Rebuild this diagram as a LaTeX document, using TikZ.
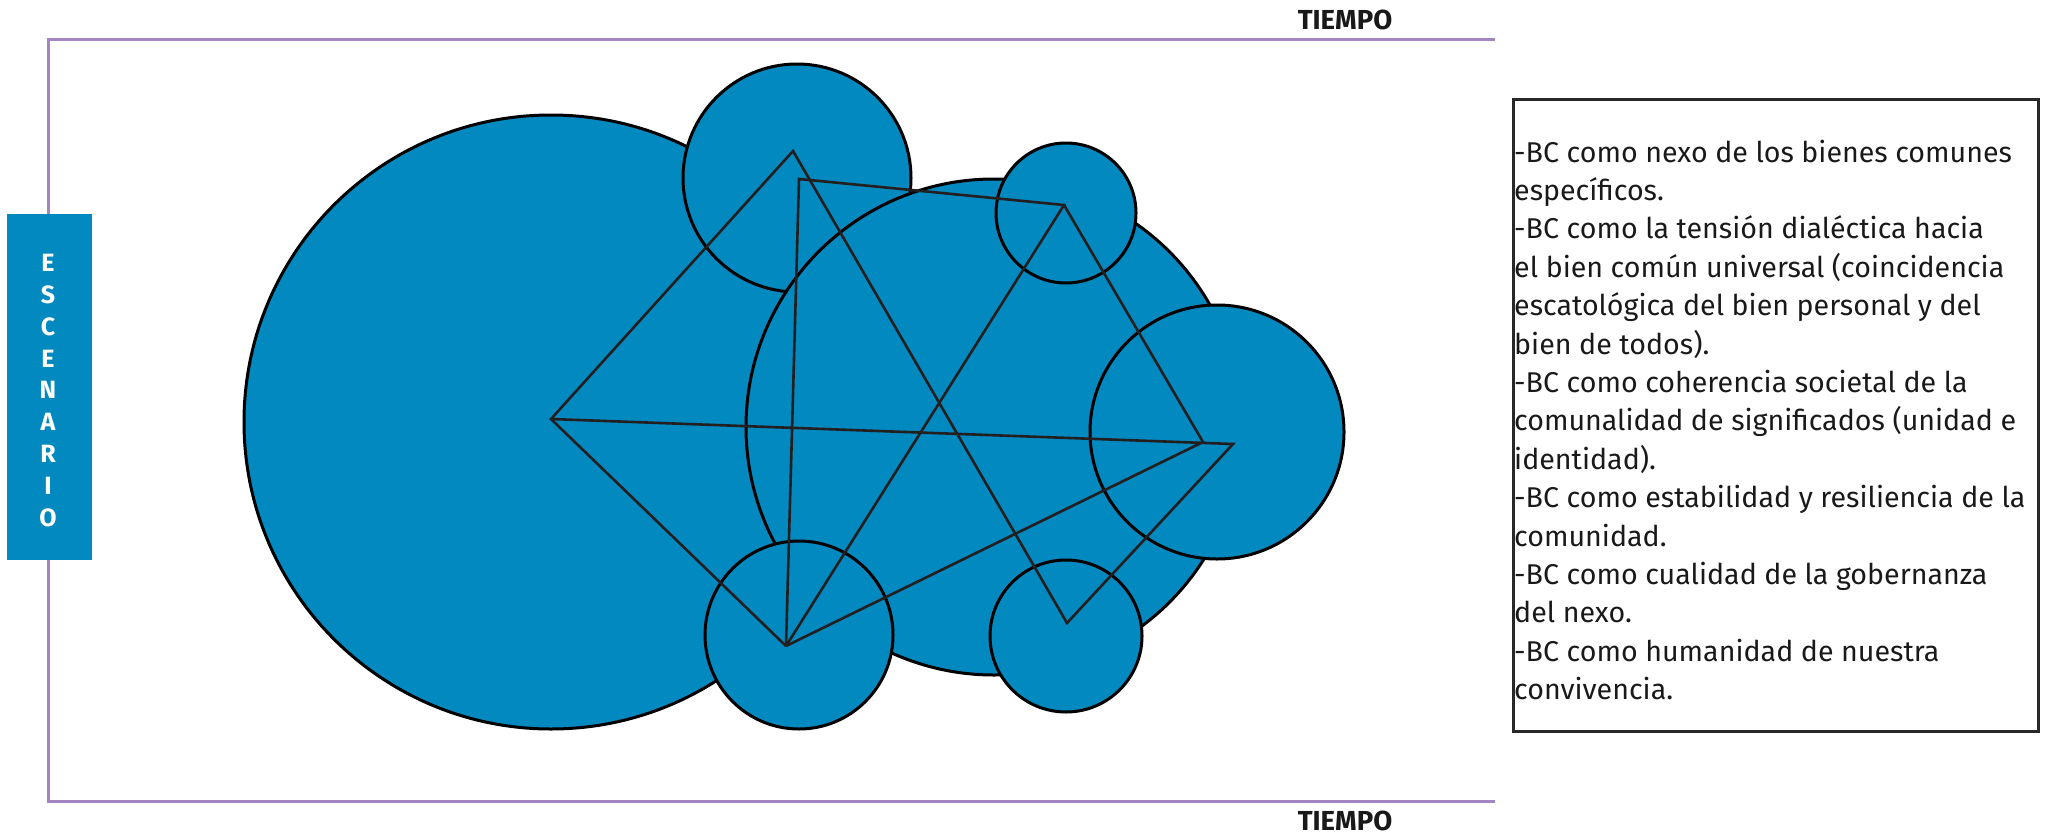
\documentclass[tikz,border=0pt]{standalone}
\usepackage{fontspec}
\setmainfont{Fira Sans}
\definecolor{bcblue}{RGB}{2,137,191}
\definecolor{framepurple}{RGB}{163,133,194}
\definecolor{starline}{RGB}{35,31,32}
\definecolor{boxline}{RGB}{40,40,40}
\tikzset{
  bubble/.style={circle, draw=black, line width=3pt, fill=bcblue, inner sep=0pt},
  starseg/.style={draw=starline, line width=2.6pt, line join=miter},
  timeline/.style={draw=framepurple, line width=3pt},
  timelabel/.style={font=\bfseries\fontsize{27.5}{30}\selectfont, text=black!90, inner sep=0pt},
}
\begin{document}
\begin{tikzpicture}[x=1pt,y=-1pt]
\useasboundingbox (0,0) rectangle (2048,835);
% frame
\coordinate (ftl) at (48,39);
\coordinate (ftr) at (1495,39);
\coordinate (fbl) at (48,801);
\coordinate (fbr) at (1495,801);
\draw[timeline] (ftr) -- (ftl) -- (fbl) -- (fbr);
\node[timelabel] (t1) at (1345,20) {TIEMPO};
\node[timelabel] (t2) at (1345,821) {TIEMPO};
% escenario box
\node[fill=bcblue, minimum width=85pt, minimum height=346pt, inner sep=0pt] (esc) at (49.5,387) {};
\node[font=\bfseries\fontsize{25}{31.9}\selectfont, text=white, align=center, inner sep=0pt] (esct) at (48,390.5) {E\\S\\C\\E\\N\\A\\R\\I\\O};
% circles
\node[bubble, minimum size=614pt] (A) at (551,422) {};
\node[bubble, minimum size=228pt] (B) at (797,178) {};
\node[bubble, minimum size=496pt] (C) at (994,427) {};
\node[bubble, minimum size=140pt] (D) at (1066,213) {};
\node[bubble, minimum size=254pt] (E) at (1217,432) {};
\node[bubble, minimum size=188pt] (F) at (799,635) {};
\node[bubble, minimum size=152pt] (G) at (1066,636) {};
% star points
\coordinate (p1) at (551,419);
\coordinate (p2) at (793,151);
\coordinate (p3) at (799,179);
\coordinate (p4) at (1064,205);
\coordinate (p5) at (1203,442);
\coordinate (p6) at (1233,444);
\coordinate (p7) at (1067,623);
\coordinate (p8) at (786,646);
\draw[starseg] (p8) -- (p1) -- (p2) -- (p7) -- (p6) -- (p1);
\draw[starseg] (p8) -- (p3) -- (p4) -- (p8);
\draw[starseg] (p4) -- (p5) -- (p8);
% text box
\node[draw=boxline, line width=3pt, minimum width=525pt, minimum height=632pt, inner sep=0pt] (box) at (1775.5,415) {};
\node[anchor=base west, align=left, inner sep=0pt, font=\fontsize{28.6}{38.4}\selectfont, text=black!90] (txt) at (1514,699.6) {-BC como nexo de los bienes comunes\\
espec\'ificos.\\
-BC como la tensi\'on dial\'ectica hacia\\
el bien com\'un universal (coincidencia\\
escatol\'ogica del bien personal y del\\
bien de todos).\\
-BC como coherencia societal de la\\
comunalidad de significados (unidad e\\
identidad).\\
-BC como estabilidad y resiliencia de la\\
comunidad.\\
-BC como cualidad de la gobernanza\\
del nexo.\\
-BC como humanidad de nuestra\\
convivencia.};
\end{tikzpicture}
\end{document}
